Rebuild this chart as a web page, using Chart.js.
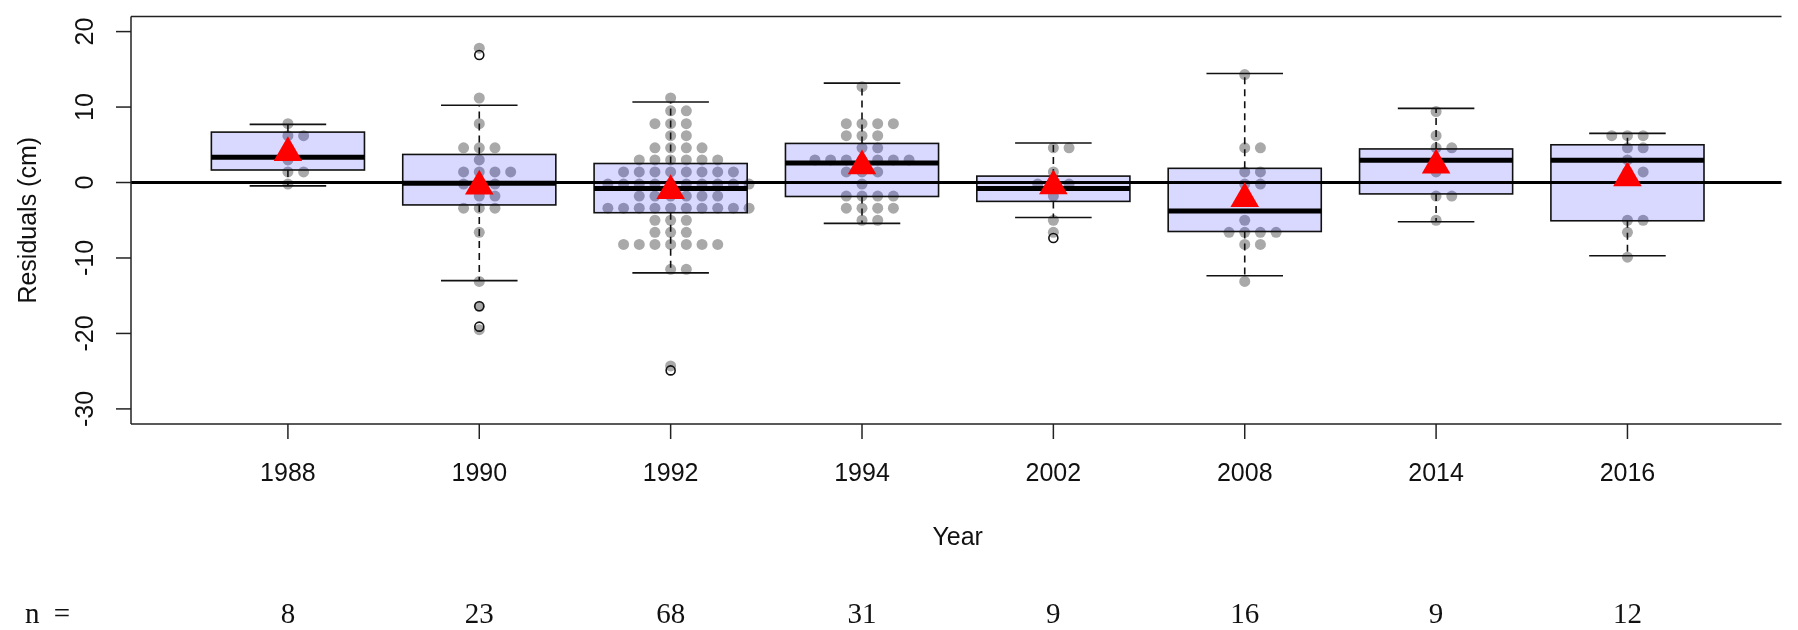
<!DOCTYPE html>
<html>
<head>
<meta charset="utf-8">
<title>Residuals by year</title>
<script src="https://cdn.jsdelivr.net/npm/chart.js@4.4.1/dist/chart.umd.min.js"></script>
<style>
    html, body { margin: 0; padding: 0; background: #fff; }
    canvas { display: block; }
</style>
</head>
<body>
<canvas id="residualChart" width="1798" height="630"></canvas>
<script>
const years = ['1988', '1990', '1992', '1994', '2002', '2008', '2014', '2016'];
const counts = [8, 23, 68, 31, 9, 16, 9, 12];
const yTicks = [-30, -20, -10, 0, 10, 20];

// box stats (cm)
const whiskerLow = [-0.44, -13.0, -11.98, -5.41, -4.64, -12.36, -5.2, -9.7];
const lowerQuartile = [1.66, -2.97, -4.0, -1.85, -2.5, -6.49, -1.51, -5.07];
const medians = [3.34, -0.1, -0.78, 2.57, -0.78, -3.78, 2.95, 2.95];
const upperQuartile = [6.68, 3.72, 2.52, 5.18, 0.85, 1.88, 4.45, 5.0];
const whiskerHigh = [7.71, 10.24, 10.67, 13.17, 5.23, 14.45, 9.82, 6.51];
const means = [3.94, -0.5, -1.1, 2.2, -0.45, -2.15, 2.3, 0.6];
const outliers = [[], [16.9, -16.4, -19.1], [-24.9], [], [-7.35], [], [], []];

// individual residuals (beeswarm rows)
const res1988 = [7.8, 6.2, 6.2, 4.6, 3.0, 1.4, 1.4, -0.2];
const res1990 = [17.8, 11.2, 7.8, 4.6, 4.6, 4.6, 3.0, 1.4, 1.4, 1.4, 1.4, -0.2, -0.2, -0.2,
    -1.8, -1.8, -3.4, -3.4, -3.4, -6.6, -13.1, -16.4, -19.5];
const res1992 = [11.2, 9.5, 9.5, 7.8, 7.8, 7.8, 6.2, 6.2, 4.6, 4.6, 4.6, 4.6,
    3.0, 3.0, 3.0, 3.0, 3.0, 3.0, 1.4, 1.4, 1.4, 1.4, 1.4, 1.4, 1.4, 1.4,
    -0.2, -0.2, -0.2, -0.2, -0.2, -0.2, -0.2, -0.2, -0.2, -0.2,
    -1.8, -1.8, -1.8, -1.8, -1.8, -1.8,
    -3.4, -3.4, -3.4, -3.4, -3.4, -3.4, -3.4, -3.4, -3.4, -3.4,
    -5.0, -5.0, -5.0, -6.6, -6.6, -6.6, -8.2, -8.2, -8.2, -8.2, -8.2, -8.2, -8.2,
    -11.5, -11.5, -24.3];
const res1994 = [12.7, 7.8, 7.8, 7.8, 7.8, 6.2, 6.2, 6.2, 4.6, 4.6,
    3.0, 3.0, 3.0, 3.0, 3.0, 3.0, 3.0, 1.4, 1.4, 1.4, -0.2,
    -1.8, -1.8, -1.8, -1.8, -3.4, -3.4, -3.4, -3.4, -5.0, -5.0];
const res2002 = [4.6, 4.6, 1.4, -0.2, -0.2, -0.2, -1.8, -5.0, -6.6];
const res2008 = [14.3, 4.6, 4.6, 1.4, 1.4, -0.2, -0.2, -1.8, -5.0, -6.6, -6.6, -6.6, -6.6, -8.2, -8.2, -13.1];
const res2014 = [9.4, 6.2, 4.6, 4.6, 3.0, 1.4, -1.8, -1.8, -5.0];
const res2016 = [6.2, 6.2, 6.2, 4.6, 4.6, 3.0, 1.4, 1.4, -5.0, -5.0, -6.6, -9.9];
const residuals = [res1988, res1990, res1992, res1994, res2002, res2008, res2014, res2016];

const SWARM_STEP = 0.082;   // horizontal gap between swarm columns (x units)
const BOX_HALF = 0.4;
const STAPLE_HALF = 0.2;
const SANS = '"Liberation Sans", Arial, sans-serif';
const SERIF = '"Liberation Serif", "Times New Roman", serif';

// lay out points of equal value side by side: centre, right, left, ...
function swarm(values, pos) {
    const rows = new Map();
    values.forEach(v => rows.set(v, (rows.get(v) || 0) + 1));
    const pts = [];
    rows.forEach((n, v) => {
        const start = -Math.floor((n - 1) / 2);
        for (let k = 0; k < n; k++) pts.push({ x: pos + (start + k) * SWARM_STEP, y: v });
    });
    return pts;
}

const swarmPoints = residuals.flatMap((vals, i) => swarm(vals, i + 1));
const outlierPoints = outliers.flatMap((vals, i) => vals.map(v => ({ x: i + 1, y: v })));
const meanPoints = means.map((m, i) => ({ x: i + 1, y: m }));

function line(ctx, x1, y1, x2, y2) {
    ctx.beginPath();
    ctx.moveTo(x1, y1);
    ctx.lineTo(x2, y2);
    ctx.stroke();
}

function drawBoxes(chart) {
    const ctx = chart.ctx, xs = chart.scales.x, ys = chart.scales.y;
    ctx.save();
    years.forEach((yr, i) => {
        const x = xs.getPixelForValue(i + 1);
        const half = xs.getPixelForValue(i + 1 + BOX_HALF) - x;
        const staple = xs.getPixelForValue(i + 1 + STAPLE_HALF) - x;
        const yLo = ys.getPixelForValue(whiskerLow[i]);
        const yQ1 = ys.getPixelForValue(lowerQuartile[i]);
        const yMed = ys.getPixelForValue(medians[i]);
        const yQ3 = ys.getPixelForValue(upperQuartile[i]);
        const yHi = ys.getPixelForValue(whiskerHigh[i]);

        ctx.fillStyle = 'rgba(0, 0, 255, 0.15)';
        ctx.fillRect(x - half, yQ3, 2 * half, yQ1 - yQ3);

        ctx.strokeStyle = '#111';
        ctx.lineWidth = 1.6;
        ctx.setLineDash([7, 5]);
        line(ctx, x, yQ3, x, yHi);
        line(ctx, x, yQ1, x, yLo);
        ctx.setLineDash([]);
        line(ctx, x - staple, yHi, x + staple, yHi);
        line(ctx, x - staple, yLo, x + staple, yLo);
        ctx.strokeRect(x - half, yQ3, 2 * half, yQ1 - yQ3);

        ctx.strokeStyle = '#000';
        ctx.lineWidth = 5;
        line(ctx, x - half, yMed, x + half, yMed);
    });
    ctx.restore();
}

function drawZeroLine(chart) {
    const ctx = chart.ctx, area = chart.chartArea;
    const y0 = chart.scales.y.getPixelForValue(0);
    ctx.save();
    ctx.strokeStyle = '#000';
    ctx.lineWidth = 3;
    line(ctx, area.left, y0, area.right, y0);
    ctx.restore();
}

function drawAxes(chart) {
    const ctx = chart.ctx, area = chart.chartArea;
    const xs = chart.scales.x, ys = chart.scales.y;
    ctx.save();
    ctx.strokeStyle = '#222';
    ctx.lineWidth = 1.5;
    // plot frame (right side falls off the canvas)
    line(ctx, area.left, area.top, area.right, area.top);
    line(ctx, area.left, area.top, area.left, area.bottom);
    line(ctx, area.left, area.bottom, area.right, area.bottom);

    ctx.fillStyle = '#111';
    ctx.font = '25px ' + SANS;

    // y axis ticks, labels parallel to the axis
    yTicks.forEach(t => {
        const y = ys.getPixelForValue(t);
        line(ctx, area.left - 15, y, area.left, y);
        ctx.save();
        ctx.translate(93, y);
        ctx.rotate(-Math.PI / 2);
        ctx.textAlign = 'center';
        ctx.textBaseline = 'alphabetic';
        ctx.fillText(String(t), 0, 0);
        ctx.restore();
    });

    // x axis ticks and year labels
    ctx.textAlign = 'center';
    ctx.textBaseline = 'alphabetic';
    years.forEach((yr, i) => {
        const x = xs.getPixelForValue(i + 1);
        line(ctx, x, area.bottom, x, area.bottom + 15);
        ctx.fillText(yr, x, 481);
    });

    // axis titles
    ctx.fillText('Year', (area.left + xs.getPixelForValue(8.82)) / 2, 545);
    ctx.save();
    ctx.translate(36, (area.top + area.bottom) / 2);
    ctx.rotate(-Math.PI / 2);
    ctx.fillText('Residuals (cm)', 0, 0);
    ctx.restore();

    // sample sizes
    ctx.font = '29px ' + SERIF;
    ctx.textAlign = 'left';
    ctx.fillText('n', 25, 623);
    ctx.textAlign = 'right';
    ctx.fillText('=', 70, 623);
    ctx.textAlign = 'center';
    counts.forEach((n, i) => ctx.fillText(String(n), xs.getPixelForValue(i + 1), 623));
    ctx.restore();
}

const residualLayers = {
    id: 'residualLayers',
    afterDatasetDraw(chart, args) {
        if (args.index === 0) drawBoxes(chart);
        if (args.index === 1) drawZeroLine(chart);
    },
    afterDraw(chart) {
        drawAxes(chart);
    }
};

new Chart(document.getElementById('residualChart'), {
    type: 'scatter',
    data: {
        datasets: [
            {
                label: 'Residuals',
                data: swarmPoints,
                order: 3,
                pointRadius: 5.5,
                pointHoverRadius: 5.5,
                pointBorderWidth: 0,
                pointBackgroundColor: '#a9a9a9',
                pointBorderColor: '#a9a9a9'
            },
            {
                label: 'Outliers',
                data: outlierPoints,
                order: 2,
                pointRadius: 4.5,
                pointHoverRadius: 4.5,
                pointBorderWidth: 1.6,
                pointBackgroundColor: 'rgba(0,0,0,0)',
                pointBorderColor: '#111'
            },
            {
                label: 'Mean',
                data: meanPoints,
                order: 1,
                pointStyle: 'triangle',
                pointRadius: 16.5,
                pointHoverRadius: 16.5,
                pointBorderWidth: 0,
                pointBackgroundColor: '#ff0000',
                pointBorderColor: '#ff0000'
            }
        ]
    },
    options: {
        responsive: false,
        devicePixelRatio: 1,
        animation: false,
        events: [],
        layout: { padding: { left: 131, right: 0, top: 4, bottom: 206 } },
        scales: {
            x: { type: 'linear', min: 0.18, max: 8.805, display: false },
            y: { type: 'linear', min: -32, max: 22, display: false }
        },
        plugins: {
            legend: { display: false },
            tooltip: { enabled: false }
        }
    },
    plugins: [residualLayers]
});
</script>
</body>
</html>
